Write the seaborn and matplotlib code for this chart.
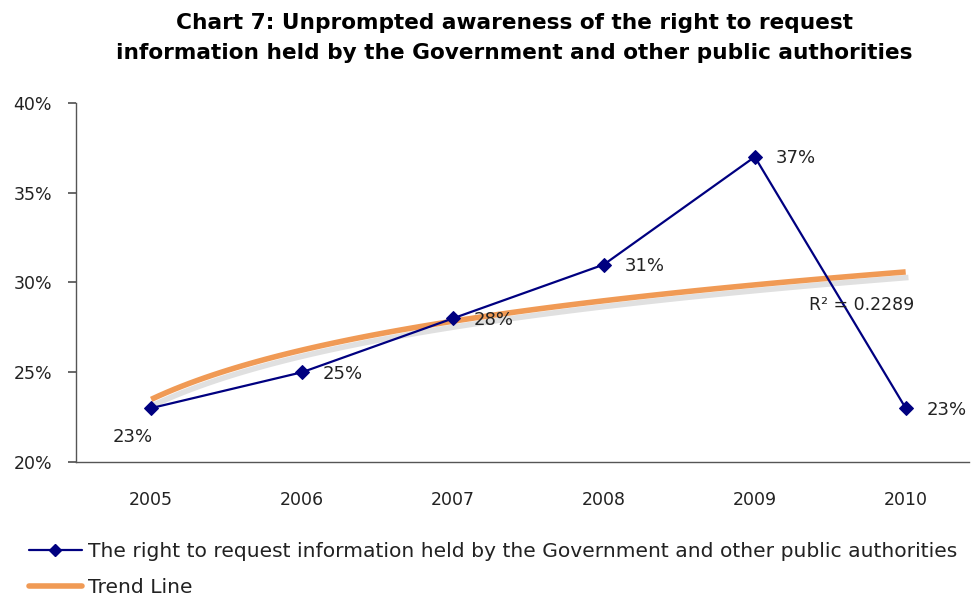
import numpy as np
import pandas as pd
import matplotlib
matplotlib.use("Agg")
import matplotlib.pyplot as plt
import matplotlib.patheffects as pe
from matplotlib.lines import Line2D
import seaborn as sns

years = ["2005", "2006", "2007", "2008", "2009", "2010"]
awareness = [23, 25, 28, 31, 37, 23]
series_name = "The right to request information held by the Government and other public authorities"
trend_name = "Trend Line"
r2_text = "R² = 0.2289"
yticks = [20, 25, 30, 35, 40]

sns.set_theme(style="white")
plt.rcParams['font.family'] = ['DejaVu Sans']

df = pd.DataFrame({"pos": np.arange(1, len(years) + 1), "value": awareness})

fig = plt.figure(figsize=(9.71, 6.02), dpi=100)
ax = fig.add_axes([0.078, 0.2326, 0.92, 0.5963])

navy = "#000080"
orange = "#F09A55"
text_col = "#222222"

# trend line (log fit)
sns.regplot(data=df, x="pos", y="value", logx=True, scatter=False, ci=None, ax=ax,
            line_kws=dict(color=orange, lw=4, solid_capstyle="butt",
                          path_effects=[pe.SimpleLineShadow(offset=(2, -4), shadow_color="#999999", alpha=0.3),
                                        pe.Normal()]))

sns.lineplot(data=df, x="pos", y="value", ax=ax, color=navy, lw=1.6, marker="D",
             markersize=7, markeredgecolor=navy)

# data labels
for i, (xp, v) in enumerate(zip(df["pos"], awareness)):
    if i == 0:
        ax.annotate(f"{v}%", (xp, v), xytext=(-13, -21), textcoords="offset points",
                    ha="center", va="center", fontsize=13, color=text_col)
    else:
        ax.annotate(f"{v}%", (xp, v), xytext=(15, -1), textcoords="offset points",
                    ha="left", va="center", fontsize=13, color=text_col)

ax.text(5.36, 28.75, r2_text, fontsize=12.5, color=text_col, ha="left", va="center")

ax.set_xlim(0.5, 6.42)
ax.set_ylim(20, 40)
ax.set_yticks(yticks)
ax.set_yticklabels([f"{t}%" for t in yticks], fontsize=12.5, color=text_col)
ax.set_xticks(df["pos"])
ax.set_xticklabels(years, fontsize=12.5, color=text_col)
ax.set_xlabel("")
ax.set_ylabel("")
for s in ["top", "right"]:
    ax.spines[s].set_visible(False)
for s in ["left", "bottom"]:
    ax.spines[s].set_color("#555555")
    ax.spines[s].set_linewidth(1.0)
ax.tick_params(axis="y", which="both", left=True, length=6, color="#555555", pad=11)
ax.tick_params(axis="x", bottom=False, pad=15)

if ax.get_legend() is not None:
    ax.get_legend().remove()
handles = [Line2D([], [], color=navy, lw=1.6, marker="D", markersize=6, markeredgecolor=navy),
           Line2D([], [], color=orange, lw=4)]
leg = fig.legend(handles, [series_name, trend_name],
                 loc="upper left", bbox_to_anchor=(0.03, 0.1), frameon=False,
                 fontsize=14.6, handlelength=2.6, handletextpad=0.3, labelspacing=0.85,
                 borderaxespad=0, borderpad=0)
for t in leg.get_texts():
    t.set_color(text_col)

fig.text(0.53, 0.978, "Chart 7: Unprompted awareness of the right to request\ninformation held by the Government and other public authorities",
         ha="center", va="top", fontsize=15.6, fontweight="bold", color="#000000", linespacing=1.6)

fig.savefig("out.png", dpi=100, facecolor="white")
